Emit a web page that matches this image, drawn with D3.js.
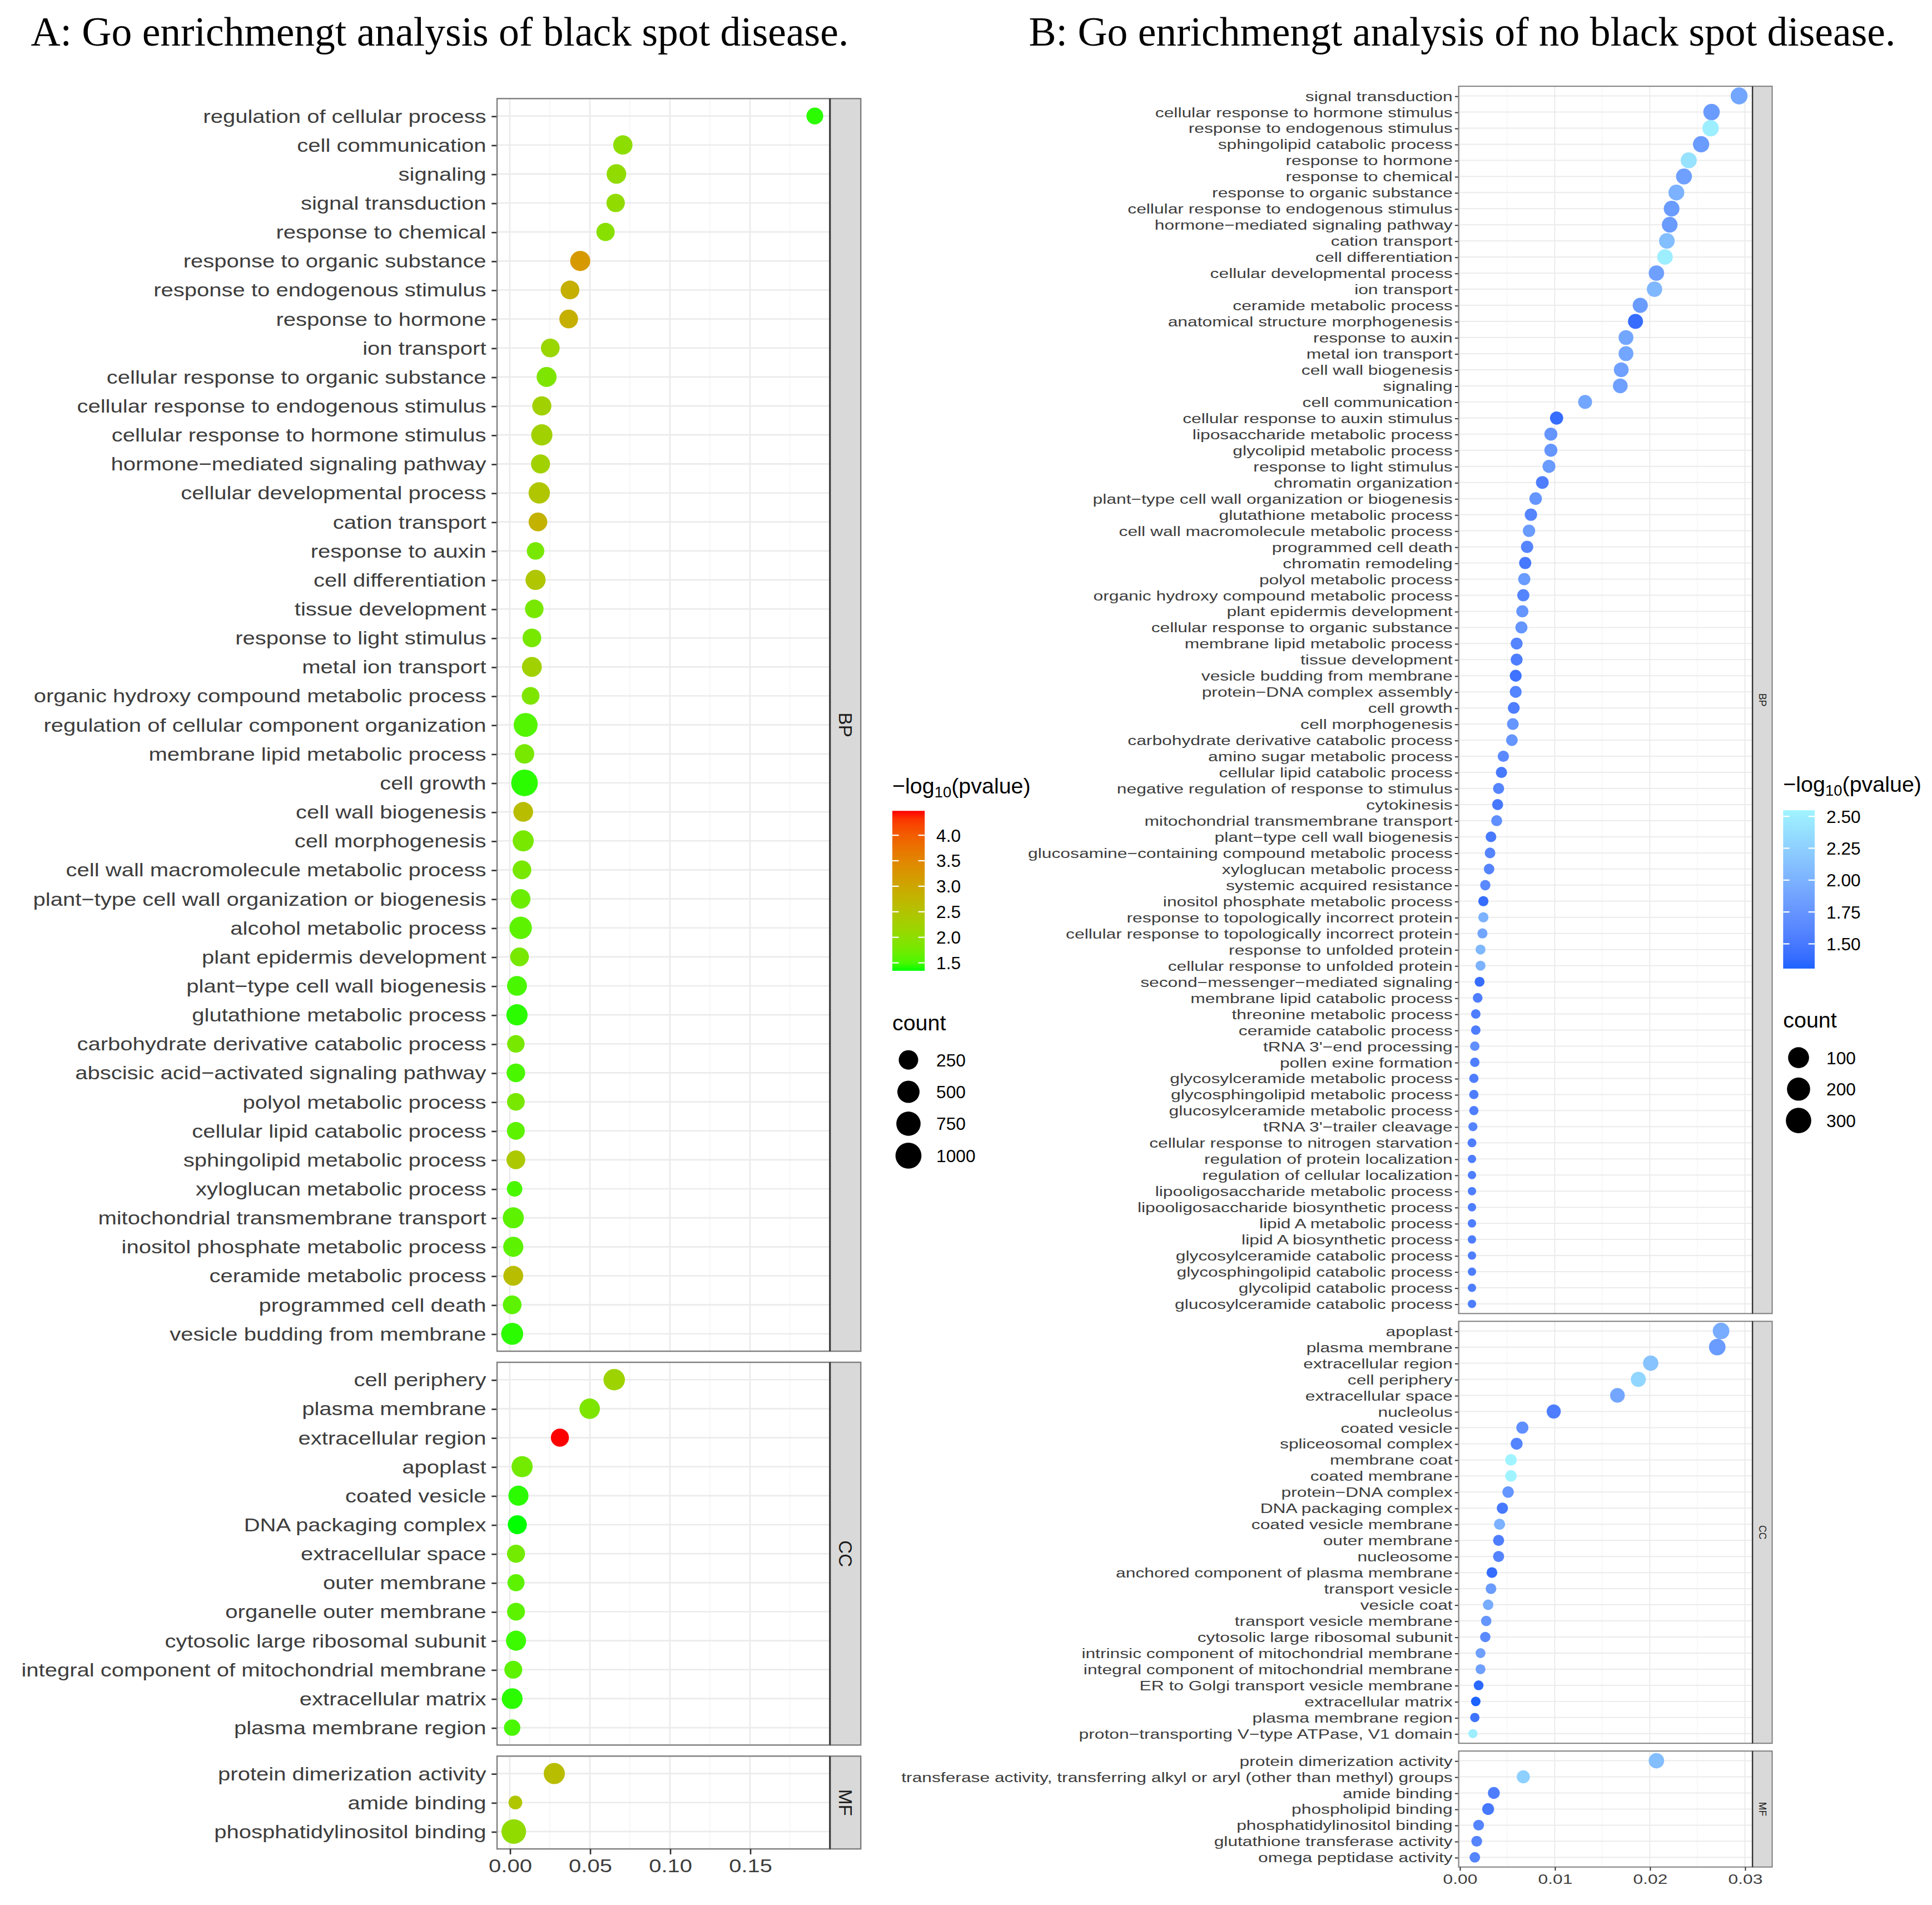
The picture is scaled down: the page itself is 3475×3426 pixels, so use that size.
<!DOCTYPE html>
<html lang="en">
<head>
<meta charset="UTF-8">
<title>GO enrichment bubble charts</title>
<script src="https://d3js.org/d3.v7.min.js"></script>
<style>
  body { margin: 0; background: #fff; }
  svg { display: block; }
</style>
</head>
<body>
<div id="container"></div>
<script>
// ---------- A: black spot disease ----------
var aBpTerms = ["regulation of cellular process","cell communication","signaling","signal transduction","response to chemical",
  "response to organic substance","response to endogenous stimulus","response to hormone","ion transport",
  "cellular response to organic substance","cellular response to endogenous stimulus","cellular response to hormone stimulus",
  "hormone−mediated signaling pathway","cellular developmental process","cation transport","response to auxin",
  "cell differentiation","tissue development","response to light stimulus","metal ion transport",
  "organic hydroxy compound metabolic process","regulation of cellular component organization","membrane lipid metabolic process",
  "cell growth","cell wall biogenesis","cell morphogenesis","cell wall macromolecule metabolic process",
  "plant−type cell wall organization or biogenesis","alcohol metabolic process","plant epidermis development",
  "plant−type cell wall biogenesis","glutathione metabolic process","carbohydrate derivative catabolic process",
  "abscisic acid−activated signaling pathway","polyol metabolic process","cellular lipid catabolic process",
  "sphingolipid metabolic process","xyloglucan metabolic process","mitochondrial transmembrane transport",
  "inositol phosphate metabolic process","ceramide metabolic process","programmed cell death","vesicle budding from membrane"];
var aBpRatio = [0.1905,0.0706,0.0666,0.0661,0.0598,0.0440,0.0376,0.0368,0.0253,0.0230,0.0200,0.0200,0.0192,0.0184,0.0176,
  0.0161,0.0161,0.0153,0.0138,0.0138,0.0130,0.0099,0.0092,0.0092,0.0084,0.0084,0.0076,0.0068,0.0068,0.0061,
  0.0045,0.0045,0.0038,0.0038,0.0038,0.0038,0.0038,0.0030,0.0022,0.0022,0.0022,0.0015,0.0015];
var aBpCount = [100,240,260,180,170,300,200,200,200,290,230,400,220,410,200,130,300,190,200,280,140,700,250,1100,270,380,
  200,260,520,200,280,400,130,190,140,150,200,60,380,300,280,200,480];
var aBpLogP = [1.40,2.00,2.05,2.05,1.95,3.20,2.85,2.85,2.15,1.85,2.25,2.25,2.25,2.45,2.80,1.80,2.45,1.80,1.80,2.25,1.85,
  1.55,1.80,1.40,2.60,1.80,1.80,1.70,1.60,1.80,1.50,1.40,1.80,1.50,1.80,1.60,2.40,1.50,1.60,1.60,2.60,1.60,1.40];

var aCcTerms = ["cell periphery","plasma membrane","extracellular region","apoplast","coated vesicle","DNA packaging complex",
  "extracellular space","outer membrane","organelle outer membrane","cytosolic large ribosomal subunit",
  "integral component of mitochondrial membrane","extracellular matrix","plasma membrane region"];
var aCcRatio = [0.0652,0.0499,0.0313,0.0077,0.0054,0.0047,0.0039,0.0039,0.0039,0.0039,0.0022,0.0015,0.0015];
var aCcCount = [420,330,160,390,300,220,160,110,150,300,150,360,85];
var aCcLogP = [2.20,1.85,4.478,1.75,1.40,1.343,1.75,1.60,1.60,1.45,1.60,1.40,1.50];

var aMfTerms = ["protein dimerization activity","amide binding","phosphatidylinositol binding"];
var aMfRatio = [0.0278,0.0035,0.0025];
var aMfCount = [390,40,800];
var aMfLogP = [2.60,2.45,2.05];

// ---------- B: no black spot disease ----------
var bBpTerms = ["signal transduction","cellular response to hormone stimulus","response to endogenous stimulus",
  "sphingolipid catabolic process","response to hormone","response to chemical","response to organic substance",
  "cellular response to endogenous stimulus","hormone−mediated signaling pathway","cation transport","cell differentiation",
  "cellular developmental process","ion transport","ceramide metabolic process","anatomical structure morphogenesis",
  "response to auxin","metal ion transport","cell wall biogenesis","signaling","cell communication",
  "cellular response to auxin stimulus","liposaccharide metabolic process","glycolipid metabolic process",
  "response to light stimulus","chromatin organization","plant−type cell wall organization or biogenesis",
  "glutathione metabolic process","cell wall macromolecule metabolic process","programmed cell death","chromatin remodeling",
  "polyol metabolic process","organic hydroxy compound metabolic process","plant epidermis development",
  "cellular response to organic substance","membrane lipid metabolic process","tissue development",
  "vesicle budding from membrane","protein−DNA complex assembly","cell growth","cell morphogenesis",
  "carbohydrate derivative catabolic process","amino sugar metabolic process","cellular lipid catabolic process",
  "negative regulation of response to stimulus","cytokinesis","mitochondrial transmembrane transport",
  "plant−type cell wall biogenesis","glucosamine−containing compound metabolic process","xyloglucan metabolic process",
  "systemic acquired resistance","inositol phosphate metabolic process","response to topologically incorrect protein",
  "cellular response to topologically incorrect protein","response to unfolded protein","cellular response to unfolded protein",
  "second−messenger−mediated signaling","membrane lipid catabolic process","threonine metabolic process",
  "ceramide catabolic process","tRNA 3'−end processing","pollen exine formation","glycosylceramide metabolic process",
  "glycosphingolipid metabolic process","glucosylceramide metabolic process","tRNA 3'−trailer cleavage",
  "cellular response to nitrogen starvation","regulation of protein localization","regulation of cellular localization",
  "lipooligosaccharide metabolic process","lipooligosaccharide biosynthetic process","lipid A metabolic process",
  "lipid A biosynthetic process","glycosylceramide catabolic process","glycosphingolipid catabolic process",
  "glycolipid catabolic process","glucosylceramide catabolic process"];
var bBpRatio = [0.0294,0.0265,0.0264,0.0254,0.0241,0.0236,0.0228,0.0223,0.0221,0.0218,0.0216,0.0207,0.0205,0.0190,0.0185,
  0.0175,0.0175,0.0170,0.0169,0.0132,0.0102,0.0096,0.0096,0.0094,0.0087,0.0080,0.0075,0.0073,0.0071,0.0069,
  0.0068,0.0067,0.0066,0.0065,0.0060,0.0060,0.0059,0.0059,0.0057,0.0056,0.0055,0.0046,0.0044,0.0041,0.0040,
  0.0039,0.0033,0.0032,0.0031,0.0027,0.0025,0.0025,0.0024,0.0022,0.0022,0.0021,0.0019,0.0017,0.0017,0.0016,
  0.0016,0.0015,0.0015,0.0015,0.0014,0.0013,0.0013,0.0013,0.0013,0.0013,0.0013,0.0013,0.0013,0.0013,0.0013,0.0013];
var bBpCount = [294,265,264,254,241,236,228,223,221,218,216,207,205,190,185,175,175,170,169,132,102,96,96,94,87,80,75,73,
  71,69,68,67,66,65,60,60,59,59,57,56,55,46,44,41,40,39,33,32,31,27,25,25,24,22,22,21,19,17,17,16,16,15,15,15,14,13,
  12,12,12,12,12,12,12,12,12,12];
var bBpLogP = [1.90,1.80,2.50,1.80,2.40,1.85,2.00,1.80,1.80,2.10,2.50,1.85,2.05,1.80,1.40,1.90,1.90,1.85,1.85,1.90,
  1.40,1.75,1.75,1.80,1.55,1.75,1.60,1.80,1.60,1.50,1.80,1.60,1.75,1.75,1.60,1.55,1.45,1.60,1.55,1.75,
  1.75,1.65,1.50,1.60,1.50,1.70,1.50,1.60,1.60,1.65,1.40,2.00,1.90,2.05,2.00,1.40,1.55,1.55,1.55,1.70,
  1.55,1.55,1.55,1.55,1.60,1.55,1.55,1.55,1.55,1.55,1.55,1.55,1.55,1.55,1.55,1.55];

var bCcTerms = ["apoplast","plasma membrane","extracellular region","cell periphery","extracellular space","nucleolus",
  "coated vesicle","spliceosomal complex","membrane coat","coated membrane","protein−DNA complex","DNA packaging complex",
  "coated vesicle membrane","outer membrane","nucleosome","anchored component of plasma membrane","transport vesicle",
  "vesicle coat","transport vesicle membrane","cytosolic large ribosomal subunit","intrinsic component of mitochondrial membrane",
  "integral component of mitochondrial membrane","ER to Golgi transport vesicle membrane","extracellular matrix",
  "plasma membrane region","proton−transporting V−type ATPase, V1 domain"];
var bCcRatio = [0.0275,0.0271,0.0201,0.0188,0.0166,0.0099,0.0066,0.0060,0.0054,0.0054,0.0051,0.0045,0.0042,0.0041,0.0041,
  0.0034,0.0033,0.0030,0.0028,0.0027,0.0022,0.0022,0.0020,0.0017,0.0016,0.0014];
var bCcCount = [275,271,201,188,166,140,66,60,54,54,51,45,42,41,40,34,33,30,28,27,22,22,20,17,16,14];
var bCcLogP = [1.95,1.80,2.15,2.30,1.90,1.55,1.70,1.60,2.548,2.548,1.75,1.50,2.00,1.55,1.60,1.40,1.80,1.95,1.75,1.65,
  1.85,1.85,1.35,1.306,1.45,2.50];

var bMfTerms = ["protein dimerization activity","transferase activity, transferring alkyl or aryl (other than methyl) groups",
  "amide binding","phospholipid binding","phosphatidylinositol binding","glutathione transferase activity","omega peptidase activity"];
var bMfRatio = [0.0207,0.0067,0.0036,0.0030,0.0020,0.0018,0.0016];
var bMfCount = [207,100,60,60,35,35,30];
var bMfLogP = [2.10,2.25,1.55,1.50,1.60,1.60,1.60];

var titleA = "A: Go enrichmengt analysis of black spot disease.";
var titleB = "B: Go enrichmengt analysis of no black spot disease.";
var ticksA = [0, 0.05, 0.10, 0.15];
var ticksB = [0, 0.01, 0.02, 0.03];
var colorTicksA = [1.5, 2.0, 2.5, 3.0, 3.5, 4.0];
var colorTicksB = [1.50, 1.75, 2.00, 2.25, 2.50];
var countKeysA = [250, 500, 750, 1000];
var countKeysB = [100, 200, 300];

// ---------- drawing ----------
var W = 3475, H = 3426;
var k = W / 1568;            // layout below is in units of a 1568-wide page
var SANS = "'Liberation Sans', Arial, Helvetica, sans-serif";
var SERIF = "'Liberation Serif', 'Times New Roman', serif";

var svg = d3.select("#container").append("svg")
  .attr("width", W).attr("height", H)
  .style("background", "#fff");
var root = svg.append("g").attr("transform", "scale(" + k + ")");
var defs = svg.append("defs");

// axis text in the source is drawn a little wider than it is tall
function widen(sel, size, sx) {
  sel.attr("fill", "#3d3d3d").attr("font-family", SANS).attr("font-size", size)
    .each(function () {
      var t = d3.select(this);
      var x0 = +t.attr("x") || 0;
      t.attr("x", x0 / sx).attr("transform", "scale(" + sx + ",1)");
    });
}

function drawChart(c) {
  var g = root.append("g");
  var allRatio = [], allLogp = [], allCount = [];
  c.facets.forEach(function (f) {
    allRatio = allRatio.concat(f.ratio);
    allLogp = allLogp.concat(f.logp);
    allCount = allCount.concat(f.count);
  });
  var xe = d3.extent(allRatio), xr = xe[1] - xe[0];
  var x = d3.scaleLinear().domain([xe[0] - 0.05 * xr, xe[1] + 0.05 * xr]).range([c.left, c.right]);
  var color = d3.scaleLinear().domain(d3.extent(allLogp)).range([c.low, c.high]).interpolate(d3.interpolateLab);
  var sizeT = d3.scaleLinear().domain(d3.extent(allCount)).range([0, 1]);
  var diam = d3.scaleSqrt().domain([0, 1]).range(c.sizeRange);
  var radius = function (v) { return diam(sizeT(v)) / 2; };

  // minor grid positions (midpoints between the major breaks)
  var minor = [];
  var dom = x.domain();
  for (var i = -2; i < 40; i++) {
    var v = (i + 0.5) * c.majorStep;
    if (v >= dom[0] && v <= dom[1]) minor.push(v);
  }

  var top = c.top;
  c.facets.forEach(function (f, fi) {
    var h = (f.terms.length - 1 + 1.2) * c.step;
    var y = d3.scalePoint().domain(f.terms).range([top, top + h]).padding(0.6);
    var pg = g.append("g");

    pg.append("rect").attr("x", c.left).attr("y", top).attr("width", c.right - c.left).attr("height", h)
      .attr("fill", "#fff");

    pg.selectAll("line.minor").data(minor).enter().append("line")
      .attr("x1", function (d) { return x(d); }).attr("x2", function (d) { return x(d); })
      .attr("y1", top).attr("y2", top + h)
      .attr("stroke", "#f2f2f2").attr("stroke-width", c.gridW * 0.5);

    pg.selectAll("line.vmajor").data(c.ticks).enter().append("line")
      .attr("x1", function (d) { return x(d); }).attr("x2", function (d) { return x(d); })
      .attr("y1", top).attr("y2", top + h)
      .attr("stroke", "#ebebeb").attr("stroke-width", c.gridW);

    pg.selectAll("line.hmajor").data(f.terms).enter().append("line")
      .attr("x1", c.left).attr("x2", c.right)
      .attr("y1", function (d) { return y(d); }).attr("y2", function (d) { return y(d); })
      .attr("stroke", "#ebebeb").attr("stroke-width", c.gridW);

    // term axis
    var ax = pg.append("g").attr("transform", "translate(" + c.left + ",0)")
      .call(d3.axisLeft(y).tickSize(c.tickLen).tickPadding(c.tickPad));
    ax.select(".domain").remove();
    ax.selectAll(".tick line").attr("stroke", "#333").attr("stroke-width", c.gridW);
    widen(ax.selectAll(".tick text"), c.fontSize, c.textWiden);

    // points
    var rows = f.terms.map(function (t, j) {
      return { term: t, ratio: f.ratio[j], count: f.count[j], logp: f.logp[j] };
    });
    pg.selectAll("circle").data(rows).enter().append("circle")
      .attr("cx", function (d) { return x(d.ratio); })
      .attr("cy", function (d) { return y(d.term); })
      .attr("r", function (d) { return radius(d.count); })
      .attr("fill", function (d) { return color(d.logp); });

    // panel border
    pg.append("rect").attr("x", c.left).attr("y", top).attr("width", c.right - c.left).attr("height", h)
      .attr("fill", "none").attr("stroke", "#7f7f7f").attr("stroke-width", c.borderW);

    // facet strip
    pg.append("rect").attr("x", c.right).attr("y", top).attr("width", c.stripW).attr("height", h)
      .attr("fill", "#d9d9d9").attr("stroke", "#7f7f7f").attr("stroke-width", c.borderW);
    pg.append("line").attr("x1", c.right).attr("x2", c.right).attr("y1", top).attr("y2", top + h)
      .attr("stroke", "#333").attr("stroke-width", c.borderW * 1.2);
    pg.append("text")
      .attr("transform", "translate(" + (c.right + c.stripW / 2) + "," + (top + h / 2) + ") rotate(90)")
      .attr("text-anchor", "middle").attr("dy", "0.35em")
      .attr("font-family", SANS).attr("font-size", c.stripFont).attr("fill", "#1a1a1a")
      .text(f.name);

    if (fi === c.facets.length - 1) {
      var bx = pg.append("g").attr("transform", "translate(0," + (top + h) + ")")
        .call(d3.axisBottom(x).tickValues(c.ticks).tickFormat(d3.format(".2f"))
          .tickSize(c.tickLen).tickPadding(c.xTickPad));
      bx.select(".domain").remove();
      bx.selectAll(".tick line").attr("stroke", "#333").attr("stroke-width", c.gridW);
      widen(bx.selectAll(".tick text"), c.fontSize, c.textWiden);
    }
    top += h + c.gap;
  });

  g.append("text").attr("x", c.titleX).attr("y", 36.9)
    .attr("font-family", SERIF).attr("font-size", 33.2).attr("fill", "#000")
    .text(c.title);

  return { color: color, radius: radius };
}

function drawLegend(L, color, keyDiam) {
  var g = root.append("g");
  var title = g.append("text").attr("x", L.x).attr("y", L.titleY)
    .attr("font-family", SANS).attr("font-size", 17.8).attr("fill", "#000");
  title.append("tspan").text("\u2212log");
  title.append("tspan").attr("font-size", 12.4).attr("dy", 3.2).text("10");
  title.append("tspan").attr("dy", -3.2).text("(pvalue)");

  var dom = color.domain();
  var gradId = "grad" + L.id;
  var grad = defs.append("linearGradient").attr("id", gradId)
    .attr("x1", 0).attr("y1", 1).attr("x2", 0).attr("y2", 0);
  d3.range(0, 1.0001, 0.05).forEach(function (t) {
    grad.append("stop").attr("offset", t).attr("stop-color", color(dom[0] + t * (dom[1] - dom[0])));
  });
  var yb = d3.scaleLinear().domain(dom).range([L.barBottom, L.barTop]);
  var bw = L.barRight - L.x;
  g.append("rect").attr("x", L.x).attr("y", L.barTop).attr("width", bw)
    .attr("height", L.barBottom - L.barTop).attr("fill", "url(#" + gradId + ")");
  L.colorTicks.forEach(function (v) {
    g.append("line").attr("x1", L.x).attr("x2", L.x + bw / 5).attr("y1", yb(v)).attr("y2", yb(v))
      .attr("stroke", "#fff").attr("stroke-width", 1);
    g.append("line").attr("x1", L.barRight - bw / 5).attr("x2", L.barRight).attr("y1", yb(v)).attr("y2", yb(v))
      .attr("stroke", "#fff").attr("stroke-width", 1);
    g.append("text").attr("x", L.labelX).attr("y", yb(v)).attr("dy", "0.36em")
      .attr("font-family", SANS).attr("font-size", 14.3).attr("fill", "#000")
      .text(d3.format(L.colorFmt)(v));
  });

  g.append("text").attr("x", L.x).attr("y", L.countY)
    .attr("font-family", SANS).attr("font-size", 17.8).attr("fill", "#000").text("count");
  L.countKeys.forEach(function (v, i) {
    var cy = L.keyY0 + i * L.keyStep;
    g.append("circle").attr("cx", L.keyX).attr("cy", cy).attr("r", keyDiam(v) / 2).attr("fill", "#000");
    g.append("text").attr("x", L.labelX).attr("y", cy).attr("dy", "0.36em")
      .attr("font-family", SANS).attr("font-size", 14.3).attr("fill", "#000").text(v);
  });
}

var resA = drawChart({
  title: titleA, titleX: 25,
  facets: [
    { name: "BP", terms: aBpTerms, ratio: aBpRatio, count: aBpCount, logp: aBpLogP },
    { name: "CC", terms: aCcTerms, ratio: aCcRatio, count: aCcCount, logp: aCcLogP },
    { name: "MF", terms: aMfTerms, ratio: aMfRatio, count: aMfCount, logp: aMfLogP }
  ],
  left: 403.4, right: 673.6, top: 80, step: 23.53, gap: 9, stripW: 25,
  fontSize: 15.3, textWiden: 1.18, tickLen: 4.4, tickPad: 4.4, xTickPad: 3.6, stripFont: 15,
  ticks: ticksA, majorStep: 0.05, gridW: 1.2, borderW: 1.1,
  low: "#00ff00", high: "#ff0000", sizeRange: [11.15, 21.6]
});

var resB = drawChart({
  title: titleB, titleX: 835,
  facets: [
    { name: "BP", terms: bBpTerms, ratio: bBpRatio, count: bBpCount, logp: bBpLogP },
    { name: "CC", terms: bCcTerms, ratio: bCcRatio, count: bCcCount, logp: bCcLogP },
    { name: "MF", terms: bMfTerms, ratio: bMfRatio, count: bMfCount, logp: bMfLogP }
  ],
  left: 1183.8, right: 1422.3, top: 70, step: 13.07, gap: 6.3, stripW: 16,
  fontSize: 11.2, textWiden: 1.28, tickLen: 3, tickPad: 1.9, xTickPad: 2.8, stripFont: 8,
  ticks: ticksB, majorStep: 0.01, gridW: 0.9, borderW: 0.9,
  low: "#1d63ff", high: "#a0f4ff", sizeRange: [6.8, 13.7]
});

drawLegend({
  id: "A", x: 724.2, barRight: 750.5, barTop: 658, barBottom: 787.8, labelX: 759.9,
  titleY: 643.7, countY: 836, keyX: 737.3, keyY0: 860.1, keyStep: 25.9,
  colorTicks: colorTicksA, colorFmt: ".1f", countKeys: countKeysA
}, resA.color, function (v) { return resA.radius(v) * 2; });

// panel B draws its size keys larger than its data points
var keySizeB = d3.scaleLinear().domain([100, 300]).range([17, 20.6]);
drawLegend({
  id: "B", x: 1447.2, barRight: 1472.8, barTop: 657.5, barBottom: 786, labelX: 1482.3,
  titleY: 642.4, countY: 833.8, keyX: 1459.7, keyY0: 858.3, keyStep: 25.5,
  colorTicks: colorTicksB, colorFmt: ".2f", countKeys: countKeysB
}, resB.color, keySizeB);
</script>
</body>
</html>
